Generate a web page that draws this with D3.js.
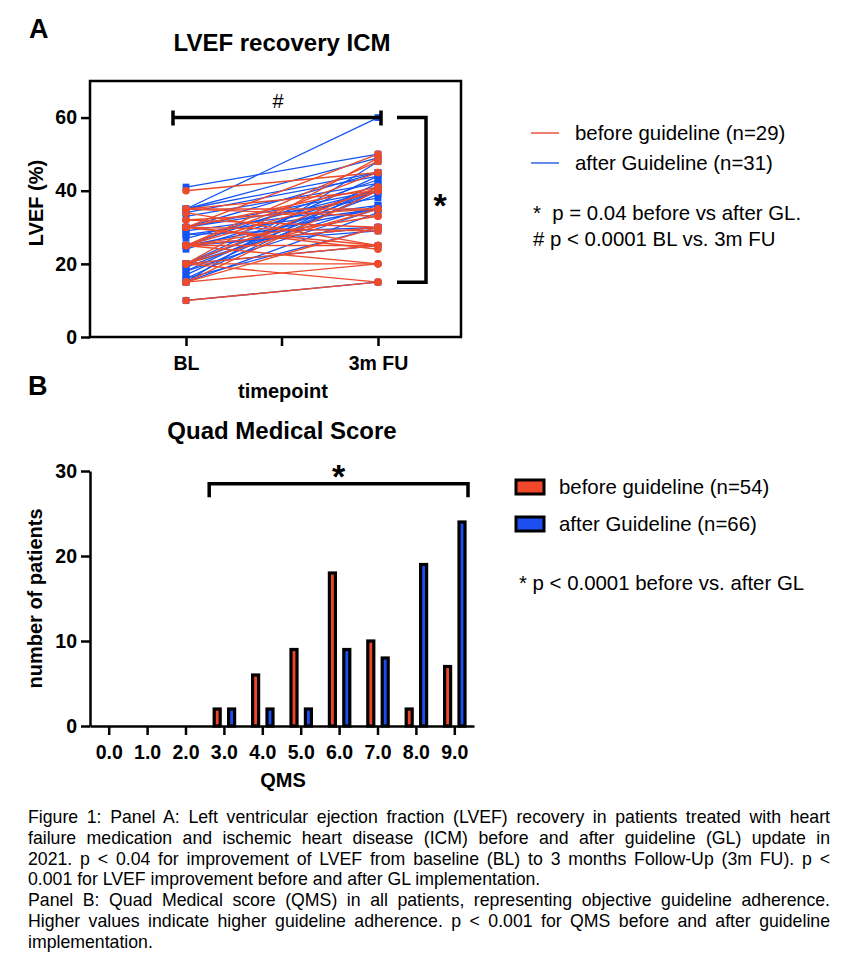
<!DOCTYPE html>
<html lang="en">
<head>
  <meta charset="UTF-8">
  <title>LVEF recovery ICM / Quad Medical Score</title>
  <script src="https://d3js.org/d3.v7.min.js"></script>
  <style>
    body {
      margin: 0;
      background: #fff;
      font-family: "Liberation Sans", Arial, Helvetica, sans-serif;
    }
    .axis path,
    .axis line {
      stroke: #000;
      stroke-width: 2.5;
    }
    .axis text {
      font-family: "Liberation Sans", Arial, sans-serif;
      font-size: 19.5px;
      font-weight: bold;
      fill: #000;
    }
    .title {
      font-size: 24px;
      font-weight: bold;
      text-anchor: middle;
    }
    .panel-letter {
      font-size: 27px;
      font-weight: bold;
    }
    .axis-label {
      font-size: 20px;
      font-weight: bold;
      text-anchor: middle;
    }
    .legend-text {
      font-size: 20.4px;
    }
    .caption {
      font-size: 17.7px;
    }
  </style>
</head>
<body>
<div id="chart"></div>
<script>
  // ---- panel A: LVEF at baseline and 3 month follow-up, one pair per patient
  const timepoints = ["BL", "3m FU"];
  const beforeBL = [40, 35, 35, 34, 32, 30, 30, 30, 30, 25, 25, 25, 25, 25, 25, 20, 20, 20, 20, 20, 15, 15, 15, 10, 35, 32, 30, 25, 20];
  const beforeFU = [45, 40, 33, 25, 35, 50, 41, 29, 24, 48, 45, 40, 30, 25, 20, 49, 41, 35, 25, 20, 40, 30, 20, 15, 35, 30, 25, 33, 15];
  const afterBL = [41, 35, 35, 35, 34, 33, 30, 30, 30, 29, 28, 28, 27, 25, 25, 25, 25, 24, 20, 20, 20, 19, 18, 18, 17, 16, 16, 15, 15, 20, 10];
  const afterFU = [50, 60, 49, 45, 44, 42, 45, 40, 38, 36, 35, 30, 40, 43, 35, 30, 29, 40, 44, 40, 36, 39, 42, 35, 41, 40, 30, 48, 34, 25, 15];
  const lvefTicks = [0, 20, 40, 60];

  // ---- panel B: number of patients per QMS value
  const qmsLabels = ["0.0", "1.0", "2.0", "3.0", "4.0", "5.0", "6.0", "7.0", "8.0", "9.0"];
  const beforeCounts = [0, 0, 0, 2, 6, 9, 18, 10, 2, 7];
  const afterCounts = [0, 0, 0, 2, 2, 2, 9, 8, 19, 24];
  const countTicks = [0, 10, 20, 30];

  const captionLines = [
    "Figure 1: Panel A: Left ventricular ejection fraction (LVEF) recovery in patients treated with heart",
    "failure medication and ischemic heart disease (ICM) before and after guideline (GL) update in",
    "2021. p < 0.04 for improvement of LVEF from baseline (BL) to 3 months Follow-Up (3m FU). p <",
    "0.001 for LVEF improvement before and after GL implementation.",
    "Panel B: Quad Medical score (QMS) in all patients, representing objective guideline adherence.",
    "Higher values indicate higher guideline adherence. p < 0.001 for QMS before and after guideline",
    "implementation."
  ];
  const justified = [true, true, true, false, true, true, false];

  const red = "#ec4a2c";
  const blue = "#1452f2";

  const svg = d3.select("#chart").append("svg")
    .attr("width", 864)
    .attr("height", 958)
    .style("background", "#fff");

  // ================= PANEL A =================
  const A = { left: 90, right: 461, top: 81, bottom: 337 };

  const xA = d3.scalePoint()
    .domain(timepoints)
    .range([186, 378]);

  const yA = d3.scaleLinear()
    .domain([0, 70])
    .range([A.bottom, A.top]);

  svg.append("text").attr("class", "panel-letter").attr("x", 29).attr("y", 38).text("A");
  svg.append("text").attr("class", "title").attr("x", 282).attr("y", 51).text("LVEF recovery ICM");

  // pairs -> lines
  const beforePairs = beforeBL.map((v, i) => [v, beforeFU[i]]);
  const afterPairs = afterBL.map((v, i) => [v, afterFU[i]]);

  const pairLine = d3.line()
    .x((d, i) => xA(timepoints[i]))
    .y(d => yA(d));

  svg.append("g").selectAll("path")
    .data(afterPairs)
    .join("path")
    .attr("d", pairLine)
    .attr("fill", "none")
    .attr("stroke", blue)
    .attr("stroke-width", 1.3);

  svg.append("g").selectAll("path")
    .data(beforePairs)
    .join("path")
    .attr("d", pairLine)
    .attr("fill", "none")
    .attr("stroke", red)
    .attr("stroke-width", 1.4);

  // markers
  const afterPts = afterPairs.flatMap(p => p.map((v, i) => ({ t: timepoints[i], v })));
  const beforePts = beforePairs.flatMap(p => p.map((v, i) => ({ t: timepoints[i], v })));

  svg.append("g").selectAll("rect")
    .data(afterPts)
    .join("rect")
    .attr("x", d => xA(d.t) - 3.4)
    .attr("y", d => yA(d.v) - 3.4)
    .attr("width", 6.8)
    .attr("height", 6.8)
    .attr("fill", blue);

  svg.append("g").selectAll("circle")
    .data(beforePts)
    .join("circle")
    .attr("cx", d => xA(d.t))
    .attr("cy", d => yA(d.v))
    .attr("r", 3.8)
    .attr("fill", red);

  // frame + axes
  svg.append("rect")
    .attr("x", A.left).attr("y", A.top)
    .attr("width", A.right - A.left).attr("height", A.bottom - A.top)
    .attr("fill", "none")
    .attr("stroke", "#000")
    .attr("stroke-width", 2.5);

  svg.append("g")
    .attr("class", "axis")
    .attr("transform", `translate(${A.left},0)`)
    .call(d3.axisLeft(yA).tickValues(lvefTicks).tickSize(9).tickPadding(4).tickSizeOuter(0))
    .call(g => g.select(".domain").remove());

  svg.append("g")
    .attr("class", "axis")
    .attr("transform", `translate(0,${A.bottom})`)
    .call(d3.axisBottom(xA).tickSize(9).tickPadding(10))
    .call(g => g.select(".domain").remove());

  // middle tick between the two timepoints
  const midX = (xA("BL") + xA("3m FU")) / 2;
  svg.append("line")
    .attr("x1", midX).attr("x2", midX)
    .attr("y1", A.bottom).attr("y2", A.bottom + 9)
    .attr("stroke", "#000").attr("stroke-width", 2.5);

  svg.append("text").attr("class", "axis-label").attr("x", 283).attr("y", 398).text("timepoint");
  svg.append("text").attr("class", "axis-label")
    .attr("transform", `translate(43,${(A.top + A.bottom) / 2 - 6}) rotate(-90)`)
    .text("LVEF (%)");

  // significance marks
  const sig = svg.append("g").attr("stroke", "#000").attr("stroke-width", 3.5).attr("fill", "none");
  sig.append("path")
    .attr("d", `M${xA("BL") - 13},${yA(60) - 7}V${yA(60) + 8}M${xA("BL") - 13},${yA(60)}H${xA("3m FU") + 3}M${xA("3m FU") + 3},${yA(60) - 7}V${yA(60) + 8}`);
  sig.append("path")
    .attr("d", `M${xA("3m FU") + 19},${yA(60)}H${xA("3m FU") + 48}V${yA(15)}H${xA("3m FU") + 19}`);

  svg.append("text").attr("x", midX - 4).attr("y", 108)
    .attr("text-anchor", "middle").style("font-size", "20px").text("#");
  svg.append("text").attr("x", xA("3m FU") + 62).attr("y", 217)
    .attr("text-anchor", "middle").style("font-size", "34px").style("font-weight", "bold").text("*");

  // legend A
  const legA = [
    { label: "before guideline (n=29)", color: "#e8553d" },
    { label: "after Guideline (n=31)", color: "#3466e6" }
  ];
  legA.forEach((d, i) => {
    const y = 133 + i * 30;
    svg.append("line")
      .attr("x1", 531).attr("x2", 559).attr("y1", y).attr("y2", y)
      .attr("stroke", d.color).attr("stroke-width", 1.5);
    svg.append("text").attr("class", "legend-text").attr("x", 575).attr("y", y + 7).text(d.label);
  });
  svg.append("text").attr("class", "legend-text").attr("x", 533).attr("y", 220)
    .style("white-space", "pre").text("*  p = 0.04 before vs after GL.");
  svg.append("text").attr("class", "legend-text").attr("x", 533).attr("y", 246)
    .text("# p < 0.0001 BL vs. 3m FU");

  // ================= PANEL B =================
  const B = { left: 90, right: 474, top: 471, bottom: 726 };

  const xB = d3.scaleBand()
    .domain(qmsLabels)
    .range([B.left, B.right]);

  const yB = d3.scaleLinear()
    .domain([0, 30])
    .range([B.bottom, B.top]);

  svg.append("text").attr("class", "panel-letter").attr("x", 28).attr("y", 395).text("B");
  svg.append("text").attr("class", "title").attr("x", 282).attr("y", 439).text("Quad Medical Score");

  const barW = 6;
  const barOff = 7.2;
  const groups = [
    { counts: beforeCounts, color: "#f0472a", dx: -barOff },
    { counts: afterCounts, color: "#1c4ff2", dx: barOff }
  ];
  groups.forEach(gr => {
    svg.append("g").selectAll("rect")
      .data(qmsLabels.map((q, i) => ({ q, n: gr.counts[i] })).filter(d => d.n > 0))
      .join("rect")
      .attr("x", d => xB(d.q) + xB.bandwidth() / 2 + gr.dx - barW / 2)
      .attr("y", d => yB(d.n))
      .attr("width", barW)
      .attr("height", d => yB(0) - yB(d.n))
      .attr("fill", gr.color)
      .attr("stroke", "#000")
      .attr("stroke-width", 3.2);
  });

  svg.append("g")
    .attr("class", "axis")
    .attr("transform", `translate(${B.left},0)`)
    .call(d3.axisLeft(yB).tickValues(countTicks).tickSize(9).tickPadding(4).tickSizeOuter(0));

  svg.append("g")
    .attr("class", "axis")
    .attr("transform", `translate(0,${B.bottom})`)
    .call(d3.axisBottom(xB).tickSize(9).tickPadding(10).tickSizeOuter(0));

  svg.append("text").attr("class", "axis-label").attr("x", 283).attr("y", 787).text("QMS");
  svg.append("text").attr("class", "axis-label")
    .attr("transform", `translate(42,${(B.top + B.bottom) / 2}) rotate(-90)`)
    .text("number of patients");

  // significance bracket over QMS 3..9
  const bx0 = xB("3.0") + xB.bandwidth() / 2 - barOff - 8;
  const bx1 = xB("9.0") + xB.bandwidth() / 2 + barOff + 6;
  svg.append("path")
    .attr("d", `M${bx0},${yB(26.9)}V${yB(28.5)}H${bx1}V${yB(26.9)}`)
    .attr("fill", "none").attr("stroke", "#000").attr("stroke-width", 3.5);
  svg.append("text").attr("x", (bx0 + bx1) / 2).attr("y", 488)
    .attr("text-anchor", "middle").style("font-size", "34px").style("font-weight", "bold").text("*");

  // legend B
  const legB = [
    { label: "before guideline (n=54)", color: "#f0472a" },
    { label: "after Guideline (n=66)", color: "#1c4ff2" }
  ];
  legB.forEach((d, i) => {
    const y = 480 + i * 37;
    svg.append("rect")
      .attr("x", 516).attr("y", y).attr("width", 28).attr("height", 14)
      .attr("fill", d.color).attr("stroke", "#000").attr("stroke-width", 3);
    svg.append("text").attr("class", "legend-text").attr("x", 559).attr("y", y + 14).text(d.label);
  });
  svg.append("text").attr("class", "legend-text").attr("x", 519).attr("y", 590)
    .text("* p < 0.0001 before vs. after GL");

  // ================= CAPTION =================
  const capLeft = 28, capRight = 830;
  captionLines.forEach((line, i) => {
    const t = svg.append("text")
      .attr("class", "caption")
      .attr("x", capLeft)
      .attr("y", 823 + i * 20.8)
      .text(line);
    if (justified[i]) {
      const w = t.node().getComputedTextLength();
      const gaps = (line.match(/ /g) || []).length;
      t.style("word-spacing", ((capRight - capLeft - w) / gaps) + "px");
    }
  });
</script>
</body>
</html>
